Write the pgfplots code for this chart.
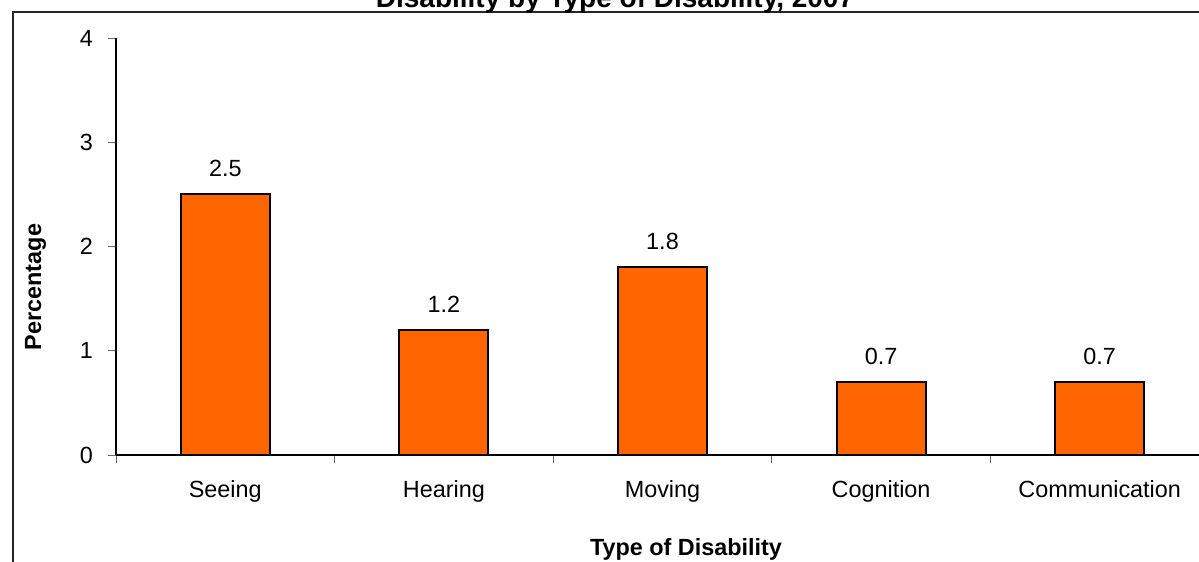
\documentclass[border=0pt]{standalone}
\usepackage{fontspec}
\setmainfont{Liberation Sans}
\usepackage{pgfplots}
\pgfplotsset{compat=1.18}
\definecolor{barorange}{RGB}{255,102,0}
\begin{document}
\begin{tikzpicture}[font=\fontsize{11.7}{14}\selectfont]
\useasboundingbox (0pt,0pt) rectangle (599.5pt,-281pt);
\clip (0pt,0pt) rectangle (599.5pt,-281pt);
\draw[line width=0.7pt, black!85] (6.5pt,-6pt) rectangle (800pt,-400pt);
\begin{axis}[
  at={(58pt,-227.5pt)}, anchor=south west,
  scale only axis, width=546.5pt, height=208.5pt,
  axis lines*=left,
  axis line style={black, line width=0.6pt},
  xmin=-0.5, xmax=4.5, ymin=0, ymax=4,
  xtick={-0.5,0.5,1.5,2.5,3.5,4.5},
  x tick label as interval,
  xticklabels={Seeing,Hearing,Moving,Cognition,Communication},
  ytick={0,1,2,3,4},
  tick align=outside,
  major tick length=4pt,
  tick style={black!60, line width=0.5pt},
  /pgf/number format/assume math mode=true,
  ticklabel style={font=\fontsize{11.7}{14}\selectfont},
  xticklabel style={yshift=-5pt},
  yticklabel style={xshift=-4pt},
  ybar, bar width=44.5pt,
  nodes near coords,
  nodes near coords style={anchor=base, yshift=8.7pt, font=\fontsize{11.7}{14}\selectfont,
    /pgf/number format/.cd, fixed, precision=1, fixed zerofill, assume math mode=true},
  clip=false,
]
\addplot[fill=barorange, draw=black, line width=1pt, bar shift=0pt]
  coordinates {(0,2.5) (1,1.2) (2,1.8) (3,0.7) (4,0.7)};
\end{axis}
\node[anchor=base, font=\bfseries\fontsize{14}{17}\selectfont] at (307.5pt,-3.5pt) {Disability by Type of Disability, 2007};
\node[anchor=base, font=\bfseries\fontsize{11.7}{14}\selectfont] at (343pt,-277.5pt) {Type of Disability};
\node[anchor=base, rotate=90, font=\bfseries\fontsize{11.7}{14}\selectfont] at (20.5pt,-143.5pt) {Percentage};
\end{tikzpicture}
\end{document}
